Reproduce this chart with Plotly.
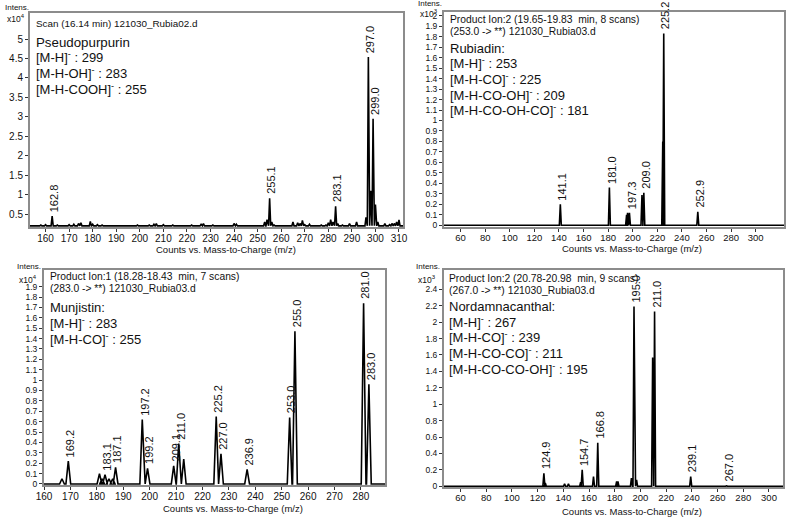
import plotly.graph_objects as go

W, H = 787, 518
FONT = "Liberation Sans, Arial, sans-serif"

# ---------------- data ----------------
# Panel A: Pseudopurpurin (x10^4)
a_mz = [156, 158, 160, 162.8, 165, 170, 172, 174, 175, 179, 180, 182, 184, 188, 195, 199,
        204, 206, 207, 210, 214, 218, 222, 226, 227, 231, 240, 241, 246, 253, 254, 255.1,
        256, 257, 265, 267, 268, 269, 270, 272, 277, 279, 280, 281, 282, 283.1, 284, 286,
        289, 292, 296, 297.0, 298, 299.0, 300, 301, 304, 306, 307, 308, 309, 310]
a_int = [0.21, 0.22, 0.23, 0.45, 0.22, 0.23, 0.24, 0.26, 0.28, 0.31, 0.24, 0.23, 0.22, 0.21, 0.21, 0.22,
         0.22, 0.24, 0.26, 0.23, 0.22, 0.21, 0.22, 0.24, 0.26, 0.22, 0.26, 0.24, 0.21, 0.30, 0.36, 0.91,
         0.30, 0.22, 0.30, 0.28, 0.26, 0.34, 0.23, 0.24, 0.22, 0.22, 0.28, 0.36, 0.30, 0.70, 0.26, 0.22,
         0.26, 0.30, 0.42, 4.54, 1.10, 2.95, 0.75, 0.30, 0.26, 0.23, 0.26, 0.26, 0.30, 0.35]
a_labels = ["162.8", "255.1", "283.1", "297.0", "299.0"]
a_xticks = list(range(160, 311, 10))
a_yticks = [0.5, 1, 1.5, 2, 2.5, 3, 3.5, 4, 4.5, 5]

# Panel B: Rubiadin (x10^3)
b_mz = [141.1, 181.0, 195.0, 195.8, 197.3, 207.5, 209.0, 224.4, 225.2, 252.9]
b_int = [0.20, 0.36, 0.10, 0.12, 0.12, 0.29, 0.31, 0.80, 1.83, 0.13]
b_labels = ["141.1", "181.0", "197.3", "209.0", "225.2", "252.9"]
b_xticks = list(range(60, 301, 20))
b_yticks = [0, 0.1, 0.2, 0.3, 0.4, 0.5, 0.6, 0.7, 0.8, 0.9, 1, 1.1, 1.2, 1.3, 1.4, 1.5, 1.6, 1.7, 1.8, 1.9, 2]

# Panel C: Munjistin (x10^4)
c_mz = [166.8, 169.2, 181.0, 182.0, 183.1, 184.6, 186.0, 187.1, 197.2, 199.2, 209.1, 211.0,
        212.9, 225.2, 227.0, 236.9, 253.0, 255.0, 281.0, 283.0]
c_int = [0.05, 0.22, 0.10, 0.05, 0.09, 0.05, 0.05, 0.16, 0.62, 0.15, 0.175, 0.39,
         0.24, 0.65, 0.29, 0.14, 0.64, 1.47, 1.74, 0.96]
c_labels = ["169.2", "183.1", "187.1", "197.2", "199.2", "209.1", "211.0", "225.2", "227.0",
            "236.9", "253.0", "255.0", "281.0", "283.0"]
c_xticks = list(range(160, 281, 10))
c_yticks = [0, 0.1, 0.2, 0.3, 0.4, 0.5, 0.6, 0.7, 0.8, 0.9, 1, 1.1, 1.2, 1.3, 1.4, 1.5, 1.6, 1.7, 1.8, 1.9]

# Panel D: Nordamnacanthal (x10^3)
d_mz = [124.9, 126.0, 141.0, 144.0, 153.5, 154.7, 163.5, 166.8, 181.5, 182.5, 193.0, 195.0,
        197.0, 209.5, 211.0, 239.1, 267.0]
d_int = [0.16, 0.04, 0.03, 0.03, 0.05, 0.20, 0.12, 0.53, 0.06, 0.06, 0.10, 2.19,
         0.08, 1.57, 2.13, 0.12, 0.006]
d_labels = ["124.9", "154.7", "166.8", "195.0", "211.0", "239.1", "267.0"]
d_xticks = list(range(60, 301, 20))
d_yticks = [0, 0.2, 0.4, 0.6, 0.8, 1, 1.2, 1.4, 1.6, 1.8, 2, 2.2, 2.4]

a_text = ["Scan (16.14 min) 121030_Rubia02.d", "Pseudopurpurin",
          "[M-H]<sup>-</sup> : 299", "[M-H-OH]<sup>-</sup> : 283", "[M-H-COOH]<sup>-</sup> : 255"]
b_text = ["Product Ion:2 (19.65-19.83  min, 8 scans)", "(253.0 -> **) 121030_Rubia03.d", "Rubiadin:",
          "[M-H]<sup>-</sup> : 253", "[M-H-CO]<sup>-</sup> : 225", "[M-H-CO-OH]<sup>-</sup> : 209",
          "[M-H-CO-OH-CO]<sup>-</sup> : 181"]
c_text = ["Product Ion:1 (18.28-18.43  min, 7 scans)", "(283.0 -> **) 121030_Rubia03.d", "Munjistin:",
          "[M-H]<sup>-</sup> : 283", "[M-H-CO]<sup>-</sup> : 255"]
d_text = ["Product Ion:2 (20.78-20.98  min, 9 scans)", "(267.0 -> **) 121030_Rubia03.d", "Nordamnacanthal:",
          "[M-H]<sup>-</sup> : 267", "[M-H-CO]<sup>-</sup> : 239", "[M-H-CO-CO]<sup>-</sup> : 211",
          "[M-H-CO-CO-OH]<sup>-</sup> : 195"]

xtitle = "Counts vs. Mass-to-Charge (m/z)"


def px(x):
    return x / W


def py(y):
    return 1 - y / H


def profile(mz, inten, w, base, lo, hi):
    xs, ys = [lo], [base]
    for m, h in sorted(zip(mz, inten)):
        xs += [m - w, m, m + w]
        ys += [base, h, base]
    xs.append(hi)
    ys.append(base)
    return xs, ys


panels = [
    dict(mz=a_mz, it=a_int, lab=a_labels, txt=a_text, dx=(30, 403), dy=(13, 227),
         xr=(153.4, 311.7), yr=(0.17, 5.67), base=0.2, w=0.45, xt_v=a_xticks, yt=a_yticks,
         yf=10, xf=10, exp="4", ty=[23, 42, 57, 73, 89], tx=34, tsz=[9.9, 13.3, 13, 13, 13],
         xt=(226, 249.5), it_pos=(3, 8, 17)),
    dict(mz=b_mz, it=b_int, lab=b_labels, txt=b_text, dx=(444, 784), dy=(12, 227),
         xr=(46.5, 323), yr=(-0.016, 2.035), base=0.0, w=0.8, xt_v=b_xticks, yt=b_yticks,
         yf=8.5, xf=9.5, exp="3", ty=[19, 32, 48, 63, 79, 95, 110], tx=448,
         tsz=[10.3, 10.3, 13, 13, 13, 13, 13], xt=(632, 248.5), it_pos=(416, 4, 13)),
    dict(mz=c_mz, it=c_int, lab=c_labels, txt=c_text, dx=(44, 385), dy=(270, 485),
         xr=(160, 289.1), yr=(-0.01, 2.06), base=0.0, w=0.9, xt_v=c_xticks, yt=c_yticks,
         yf=8.5, xf=10, exp="4", ty=[276, 288, 307, 323, 339], tx=48,
         tsz=[10.3, 10.3, 13, 13, 13], xt=(233, 508.5), it_pos=(15, 266, 278)),
    dict(mz=d_mz, it=d_int, lab=d_labels, txt=d_text, dx=(444, 783), dy=(270, 487),
         xr=(47.2, 310.9), yr=(-0.008, 2.635), base=0.0, w=0.8, xt_v=d_xticks, yt=d_yticks,
         yf=8.5, xf=9.5, exp="3", ty=[278, 290, 306, 322, 337, 353, 369], tx=447,
         tsz=[10.3, 10.3, 13, 13, 13, 13, 13], xt=(632, 511), it_pos=(414, 266, 278)),
]

fig = go.Figure()
annotations = []
layout = {}

for i, p in enumerate(panels):
    n = "" if i == 0 else str(i + 1)
    xs, ys = profile(p["mz"], p["it"], p["w"], p["base"], p["xr"][0], p["xr"][1])
    fig.add_trace(go.Scatter(x=xs, y=ys, mode="lines", line=dict(color="black", width=1.6),
                             xaxis="x" + n, yaxis="y" + n, showlegend=False, hoverinfo="skip"))
    ytl = [("%g" % v) for v in p["yt"]]
    layout["xaxis" + n] = dict(
        domain=[px(p["dx"][0]), px(p["dx"][1])], range=list(p["xr"]), anchor="y" + n,
        tickmode="array", tickvals=p["xt_v"], ticks="outside", ticklen=3, tickcolor="#333",
        ticklabelstandoff=-2,
        showline=True, mirror=True, linecolor="#8c8c8c", linewidth=2, automargin=False,
        showgrid=False, zeroline=False, tickfont=dict(size=p["xf"], color="#111", family=FONT))
    layout["yaxis" + n] = dict(
        domain=[py(p["dy"][1]), py(p["dy"][0])], range=list(p["yr"]), anchor="x" + n,
        tickmode="array", tickvals=p["yt"], ticktext=ytl, ticks="outside", ticklen=3, tickcolor="#333",
        showline=True, mirror=True, linecolor="#8c8c8c", linewidth=2, automargin=False,
        showgrid=False, zeroline=False, tickfont=dict(size=p["yf"], color="#111", family=FONT))
    # peak labels
    for lab in p["lab"]:
        m = float(lab)
        j = min(range(len(p["mz"])), key=lambda k: abs(p["mz"][k] - m))
        annotations.append(dict(x=p["mz"][j], y=p["it"][j], xref="x" + n, yref="y" + n,
                                text=lab, textangle=-90, showarrow=False, xanchor="center",
                                yanchor="bottom", yshift=2, xshift=2,
                                font=dict(size=11, color="#111", family=FONT)))
    # text block
    for t, yy, sz in zip(p["txt"], p["ty"], p["tsz"]):
        annotations.append(dict(x=px(p["tx"]), y=py(yy), xref="paper", yref="paper", text=t,
                                showarrow=False, xanchor="left", yanchor="middle",
                                font=dict(size=sz, color="#111", family=FONT)))
    # x title
    annotations.append(dict(x=px(p["xt"][0]), y=py(p["xt"][1]), xref="paper", yref="paper",
                            text=xtitle, showarrow=False, xanchor="center", yanchor="middle",
                            font=dict(size=9.5, color="#111", family=FONT)))
    # Intens. / exponent
    ix, iy1, iy2 = p["it_pos"]
    annotations.append(dict(x=px(ix), y=py(iy1), xref="paper", yref="paper", text="Intens.",
                            showarrow=False, xanchor="left", yanchor="middle",
                            font=dict(size=8, color="#111", family=FONT)))
    annotations.append(dict(x=px(ix + 2), y=py(iy2 + 1), xref="paper", yref="paper",
                            text="x10<sup>" + p["exp"] + "</sup>",
                            showarrow=False, xanchor="left", yanchor="middle",
                            font=dict(size=8.5, color="#111", family=FONT)))

fig.update_layout(width=W, height=H, margin=dict(l=0, r=0, t=0, b=0, autoexpand=False),
                  template="none",
                  paper_bgcolor="white", plot_bgcolor="white",
                  font=dict(family=FONT, color="#111"), annotations=annotations, **layout)

fig.write_html("out.html", config={"displayModeBar": False},
               post_script="document.body.style.margin='0';document.body.style.overflow='hidden';")
